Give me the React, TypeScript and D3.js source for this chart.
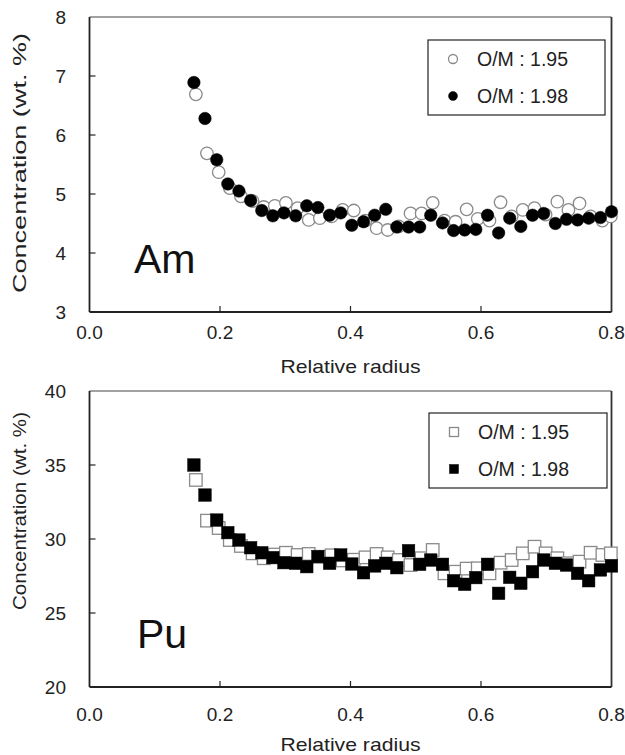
import React from "react";
import * as d3 from "d3";

// ---------- data ----------
const xTicks = [0.0, 0.2, 0.4, 0.6, 0.8];
const xTickLabels = ["0.0", "0.2", "0.4", "0.6", "0.8"];
const amYTicks = [3, 4, 5, 6, 7, 8];
const puYTicks = [20, 25, 30, 35, 40];
const legendLabels = ["O/M : 1.95", "O/M : 1.98"];

const xFilled = [0.160, 0.177, 0.195, 0.212, 0.229, 0.247, 0.264, 0.281, 0.298, 0.316, 0.333, 0.350, 0.368, 0.385, 0.402, 0.420, 0.437, 0.454, 0.471, 0.489, 0.506, 0.523, 0.541, 0.558, 0.575, 0.592, 0.610, 0.627, 0.644, 0.661, 0.679, 0.696, 0.714, 0.731, 0.748, 0.765, 0.783, 0.800];
const xOpen = [0.163, 0.180, 0.198, 0.215, 0.232, 0.250, 0.267, 0.284, 0.301, 0.319, 0.336, 0.353, 0.371, 0.388, 0.405, 0.423, 0.440, 0.457, 0.474, 0.492, 0.509, 0.526, 0.544, 0.561, 0.578, 0.595, 0.613, 0.630, 0.647, 0.664, 0.682, 0.699, 0.717, 0.734, 0.751, 0.768, 0.786, 0.799];

const am195 = [6.69, 5.69, 5.37, 5.10, 4.96, 4.88, 4.78, 4.80, 4.85, 4.76, 4.56, 4.59, 4.62, 4.73, 4.72, 4.55, 4.42, 4.39, 4.45, 4.67, 4.67, 4.85, 4.55, 4.53, 4.74, 4.58, 4.55, 4.86, 4.62, 4.73, 4.76, 4.65, 4.87, 4.73, 4.84, 4.62, 4.55, 4.62];
const am198 = [6.89, 6.28, 5.58, 5.17, 5.05, 4.89, 4.72, 4.63, 4.68, 4.63, 4.80, 4.77, 4.64, 4.68, 4.47, 4.53, 4.64, 4.74, 4.44, 4.44, 4.44, 4.64, 4.51, 4.38, 4.39, 4.40, 4.64, 4.34, 4.59, 4.45, 4.64, 4.67, 4.50, 4.57, 4.56, 4.59, 4.60, 4.70];

const pu195 = [33.99, 31.24, 30.74, 29.93, 29.53, 29.03, 28.70, 28.95, 29.07, 28.92, 28.99, 28.80, 28.90, 28.55, 28.60, 28.76, 28.99, 28.76, 28.58, 28.24, 28.70, 29.26, 27.68, 27.79, 28.00, 28.02, 27.68, 28.40, 28.58, 29.03, 29.48, 29.03, 28.70, 28.36, 28.47, 29.07, 28.92, 29.03];
const pu198 = [35.0, 32.97, 31.28, 30.43, 29.93, 29.41, 29.07, 28.74, 28.40, 28.36, 28.13, 28.81, 28.36, 28.92, 28.31, 27.72, 28.18, 28.36, 28.06, 29.21, 28.29, 28.58, 28.29, 27.18, 26.94, 27.39, 28.29, 26.33, 27.41, 27.01, 27.79, 28.58, 28.36, 28.24, 27.68, 27.18, 27.91, 28.18];

const FONT = "'Liberation Sans', Arial, Helvetica, sans-serif";
const X0 = 89.5;
const X1 = 611.5;

type PanelProps = {
  top: number;
  bottom: number;
  yDomain: [number, number];
  yTicks: number[];
  open: number[];
  filled: number[];
  shape: "circle" | "square";
  element: string;
  elemX: number;
  elemY: number;
  tickBase: number;
  titleBase: number;
  yTitleLen: number;
  yTitleCenter: number;
  legend: { x: number; y: number; w: number; h: number };
};

function Marker({ cx, cy, shape, filled, size }: { cx: number; cy: number; shape: string; filled: boolean; size: number }) {
  const fill = filled ? "#000" : "#fff";
  const stroke = filled ? "#000" : "#8a8a8a";
  const sw = filled ? 0.5 : 1.3;
  if (shape === "circle") {
    return <circle cx={cx} cy={cy} r={size / 2} fill={fill} stroke={stroke} strokeWidth={sw} />;
  }
  return <rect x={cx - size / 2} y={cy - size / 2} width={size} height={size} fill={fill} stroke={stroke} strokeWidth={sw} />;
}

function Panel(p: PanelProps) {
  const x = d3.scaleLinear().domain([0, 0.8]).range([X0, X1]);
  const y = d3.scaleLinear().domain(p.yDomain).range([p.bottom, p.top]);
  const innerY = p.yTicks.slice(1, -1);
  const innerX = xTicks.slice(1, -1);
  const msize = p.shape === "circle" ? 12.5 : 12.5;
  return (
    <g>
      {/* frame */}
      <line x1={X0} x2={X1} y1={p.top} y2={p.top} stroke="#444" strokeWidth={1.2} />
      <line x1={X1} x2={X1} y1={p.top} y2={p.bottom} stroke="#333" strokeWidth={1.8} />
      <line x1={X0} x2={X0} y1={p.top} y2={p.bottom} stroke="#222" strokeWidth={1.8} />
      <line x1={X0} x2={X1} y1={p.bottom} y2={p.bottom} stroke="#222" strokeWidth={1.8} />
      {innerY.map((t) => (
        <line key={"yt" + t} x1={X0} x2={X0 + 6} y1={y(t)} y2={y(t)} stroke="#222" strokeWidth={1.2} />
      ))}
      {innerX.map((t) => (
        <line key={"xt" + t} x1={x(t)} x2={x(t)} y1={p.bottom} y2={p.bottom - 6} stroke="#222" strokeWidth={1.2} />
      ))}
      {p.yTicks.map((t) => (
        <text key={"yl" + t} x={66} y={y(t) + 7} textAnchor="end" fontSize={19} fontFamily={FONT} fill="#222">
          {String(t)}
        </text>
      ))}
      {xTicks.map((t, i) => (
        <text key={"xl" + t} x={x(t)} y={p.tickBase} textAnchor="middle" fontSize={19} fontFamily={FONT} fill="#222">
          {xTickLabels[i]}
        </text>
      ))}
      <text x={(X0 + X1) / 2} y={p.titleBase} textAnchor="middle" fontSize={19} fontFamily={FONT} fill="#222" textLength={140} lengthAdjust="spacingAndGlyphs">
        Relative radius
      </text>
      <text
        transform={`translate(26,${p.yTitleCenter}) rotate(-90)`}
        textAnchor="middle"
        fontSize={18}
        fontFamily={FONT}
        fill="#222"
        textLength={p.yTitleLen}
        lengthAdjust="spacingAndGlyphs"
      >
        Concentration (wt. %)
      </text>
      <text x={p.elemX} y={p.elemY} fontSize={41} fontFamily={FONT} fill="#111">
        {p.element}
      </text>
      {/* data */}
      {p.open.map((v, i) => (
        <Marker key={"o" + i} cx={x(xOpen[i])} cy={y(v)} shape={p.shape} filled={false} size={msize} />
      ))}
      {p.filled.map((v, i) => (
        <Marker key={"f" + i} cx={x(xFilled[i])} cy={y(v)} shape={p.shape} filled={true} size={msize} />
      ))}
      {/* legend */}
      <rect x={p.legend.x} y={p.legend.y} width={p.legend.w} height={p.legend.h} fill="#fff" stroke="#222" strokeWidth={1.2} />
      {legendLabels.map((lab, i) => {
        const cy = p.legend.y + (i === 0 ? 19 : 56);
        return (
          <g key={lab}>
            <Marker cx={p.legend.x + 25} cy={cy} shape={p.shape} filled={i === 1} size={9} />
            <text x={p.legend.x + 49} y={cy + 7} fontSize={19.5} fontFamily={FONT} fill="#222">
              {lab}
            </text>
          </g>
        );
      })}
    </g>
  );
}

export default function App() {
  return (
    <svg width={625} height={755} style={{ position: "absolute", left: 0, top: 0, background: "#fff" }}>
      <rect x={0} y={0} width={625} height={755} fill="#fff" />
      <Panel
        top={17}
        bottom={312}
        yDomain={[3, 8]}
        yTicks={amYTicks}
        open={am195}
        filled={am198}
        shape="circle"
        element="Am"
        elemX={134}
        elemY={273}
        tickBase={339}
        titleBase={373}
        yTitleLen={260}
        yTitleCenter={163}
        legend={{ x: 428, y: 40, w: 177, h: 75 }}
      />
      <Panel
        top={391}
        bottom={687}
        yDomain={[20, 40]}
        yTicks={puYTicks}
        open={pu195}
        filled={pu198}
        shape="square"
        element="Pu"
        elemX={137}
        elemY={648}
        tickBase={721}
        titleBase={751}
        yTitleLen={198}
        yTitleCenter={511}
        legend={{ x: 429, y: 413, w: 178, h: 75 }}
      />
    </svg>
  );
}
